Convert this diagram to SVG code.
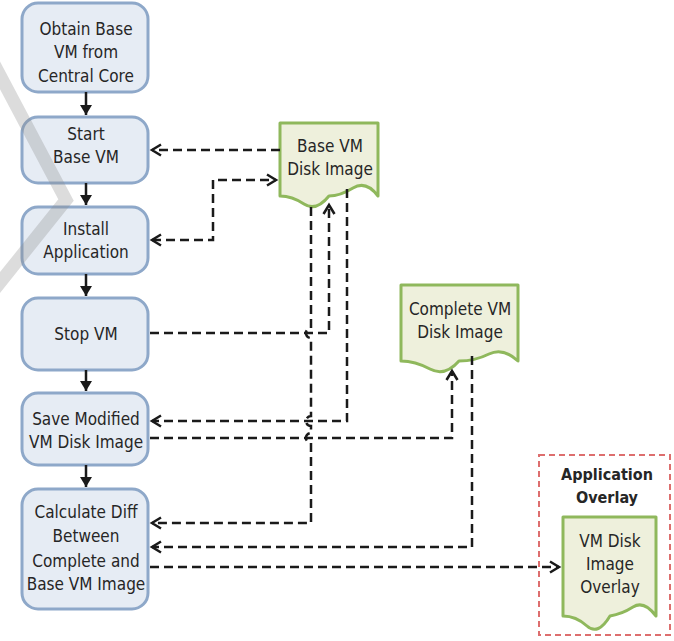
<svg xmlns="http://www.w3.org/2000/svg" width="674" height="641" viewBox="0 0 674 641">
  <style>
    .box { fill: #e6ecf4; stroke: #8ea8c9; stroke-width: 3; }
    .doc { fill: #eef0dc; stroke: #8fb85c; stroke-width: 3; stroke-linejoin: round; }
    .lbl { font-family: "DejaVu Sans Condensed", "Liberation Sans Narrow", "Liberation Sans", sans-serif; font-size: 17px; fill: #262626; text-anchor: middle; }
    .ttl { font-weight: bold; font-size: 16px; }
    .flow { fill: none; stroke: #1a1a1a; stroke-width: 2.5; }
    .link { fill: none; stroke: #1a1a1a; stroke-width: 2.5; stroke-dasharray: 9 5; }
    .group { fill: none; stroke: #dd6e6e; stroke-width: 2; stroke-dasharray: 6 4; }
  </style>
  <defs>
    <marker id="open" markerUnits="userSpaceOnUse" markerWidth="14" markerHeight="16" viewBox="0 0 14 16" refX="11" refY="7" orient="auto-start-reverse">
      <path d="M2,1.5 L11,7 L2,12.5" fill="none" stroke="#1a1a1a" stroke-width="2.5"/>
    </marker>
    <marker id="solid" markerUnits="userSpaceOnUse" markerWidth="14" markerHeight="14" viewBox="0 0 14 14" refX="11" refY="7" orient="auto">
      <path d="M1,1 L11,7 L1,13 Z" fill="#1a1a1a"/>
    </marker>
  </defs>

  <rect width="674" height="641" fill="#ffffff"/>

  <!-- process steps -->
  <g id="obtain">
    <rect class="box" x="22" y="3" width="126" height="89" rx="16"/>
    <text class="lbl" x="86" y="35">Obtain Base</text>
    <text class="lbl" x="86" y="58">VM from</text>
    <text class="lbl" x="86" y="82">Central Core</text>
  </g>
  <g id="start">
    <rect class="box" x="22" y="117" width="126" height="66" rx="16"/>
    <text class="lbl" x="86" y="140">Start</text>
    <text class="lbl" x="86" y="163">Base VM</text>
  </g>
  <g id="install">
    <rect class="box" x="22" y="207" width="126" height="67" rx="16"/>
    <text class="lbl" x="86" y="235">Install</text>
    <text class="lbl" x="86" y="258">Application</text>
  </g>
  <g id="stop">
    <rect class="box" x="22" y="298" width="126" height="72" rx="16"/>
    <text class="lbl" x="86" y="340">Stop VM</text>
  </g>
  <g id="save">
    <rect class="box" x="22" y="393" width="126" height="72" rx="16"/>
    <text class="lbl" x="86" y="425">Save Modified</text>
    <text class="lbl" x="86" y="448">VM Disk Image</text>
  </g>
  <g id="diff">
    <rect class="box" x="22" y="489" width="126" height="120" rx="16"/>
    <text class="lbl" x="86" y="518">Calculate Diff</text>
    <text class="lbl" x="86" y="542">Between</text>
    <text class="lbl" x="86" y="567">Complete and</text>
    <text class="lbl" x="86" y="590">Base VM Image</text>
  </g>

  <!-- disk images -->
  <g id="base-image">
    <path class="doc" d="M280,123 H378 V196 Q366,180 353,188 T329,196 Q316,212 304,204 T280,196 Z"/>
    <text class="lbl" x="330" y="152">Base VM</text>
    <text class="lbl" x="330" y="175">Disk Image</text>
  </g>
  <g id="complete-image">
    <path class="doc" d="M401,285 H518 V361 Q503,347 489,354 T459,361 Q445,377 430,369 T401,361 Z"/>
    <text class="lbl" x="460" y="315">Complete VM</text>
    <text class="lbl" x="460" y="338">Disk Image</text>
  </g>
  <g id="overlay">
    <rect class="group" x="539" y="455" width="131" height="180"/>
    <text class="lbl ttl" x="607" y="480">Application</text>
    <text class="lbl ttl" x="607" y="503">Overlay</text>
    <g id="overlay-image">
      <path class="doc" d="M563,517 H656 V616 Q644,600 633,607 T610,616 Q598,636 587,626 T563,616 Z"/>
      <text class="lbl" x="610" y="547">VM Disk</text>
      <text class="lbl" x="610" y="570">Image</text>
      <text class="lbl" x="610" y="593">Overlay</text>
    </g>
  </g>

  <!-- connectors -->
  <g id="connectors">
    <path class="flow" d="M86,92 V115" marker-end="url(#solid)"/>
    <path class="flow" d="M86,183 V205" marker-end="url(#solid)"/>
    <path class="flow" d="M86,274 V296" marker-end="url(#solid)"/>
    <path class="flow" d="M86,370 V391" marker-end="url(#solid)"/>
    <path class="flow" d="M86,465 V487" marker-end="url(#solid)"/>

    <path class="link" d="M280,150 H152" marker-end="url(#open)"/>
    <path class="link" d="M152,240 H213 V180 H276" marker-start="url(#open)" marker-end="url(#open)"/>
    <path class="link" d="M150,333 H329 V205" marker-end="url(#open)"/>
    <path class="link" d="M347,189 V421 H152" marker-end="url(#open)"/>
    <path class="link" d="M150,438 H452 V371" marker-end="url(#open)"/>
    <path class="link" d="M311,207 V328 A5,5 0 0 0 311,338 V416 A5,5 0 0 0 311,426 V433 A5,5 0 0 0 311,443 V523 H152" marker-end="url(#open)"/>
    <path class="link" d="M472,356 V547 H152" marker-end="url(#open)"/>
    <path class="link" d="M150,567 H559" marker-end="url(#open)"/>
  </g>

  <!-- faint diagonal band crossing the upper steps -->
  <path d="M-6,64 L66,200 L-6,290" fill="none" stroke="#8a8a8a" stroke-opacity="0.3" stroke-width="13"/>
</svg>
